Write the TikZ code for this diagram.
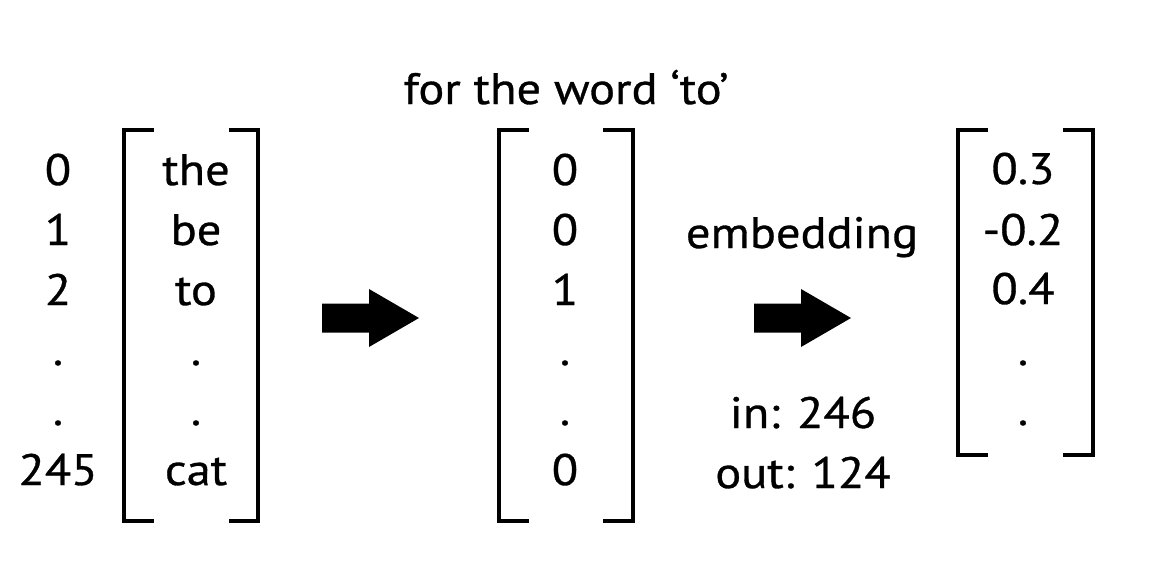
\documentclass[tikz,border=0pt]{standalone}
\usepackage{fontspec}
\setmainfont{PT Sans}[FakeStretch=1.1, FakeBold=0.7]
\tikzset{
  lbl/.style={anchor=base, inner sep=0pt, font=\fontsize{44}{52}\selectfont},
  brk/.style={line width=4pt, line join=miter, line cap=butt},
  blockarrow/.style={fill=black, draw=none}
}
\begin{document}
\begin{tikzpicture}[x=1pt,y=-1pt]
\useasboundingbox[fill=white] (0,0) rectangle (1149,578);
% brackets
\coordinate (b1tl) at (124,130); \coordinate (b1bl) at (124,521);
\coordinate (b1tr) at (258,130); \coordinate (b1br) at (258,521);
\draw[brk] ([xshift=30pt]b1tl) -- (b1tl) -- (b1bl) -- ([xshift=30pt]b1bl);
\draw[brk] ([xshift=-29pt]b1tr) -- (b1tr) -- (b1br) -- ([xshift=-29pt]b1br);
\coordinate (b2tl) at (499,130); \coordinate (b2bl) at (499,521);
\coordinate (b2tr) at (633,130); \coordinate (b2br) at (633,521);
\draw[brk] ([xshift=30pt]b2tl) -- (b2tl) -- (b2bl) -- ([xshift=30pt]b2bl);
\draw[brk] ([xshift=-30pt]b2tr) -- (b2tr) -- (b2br) -- ([xshift=-30pt]b2br);
\coordinate (b3tl) at (958,130); \coordinate (b3bl) at (958,455);
\coordinate (b3tr) at (1093,130); \coordinate (b3br) at (1093,455);
\draw[brk] ([xshift=30pt]b3tl) -- (b3tl) -- (b3bl) -- ([xshift=30pt]b3bl);
\draw[brk] ([xshift=-30pt]b3tr) -- (b3tr) -- (b3br) -- ([xshift=-30pt]b3br);
% block arrows
\coordinate (arrowA) at (322,318);
\coordinate (arrowB) at (754,318);
\foreach \a in {arrowA,arrowB}{
  \fill[blockarrow] (\a) ++(0,-14.5) -- ++(47,0) -- ++(0,-14.5) -- ++(50,29)
    -- ++(-50,29) -- ++(0,-14.5) -- ++(-47,0) -- cycle;
}
% header
\node[lbl] (hdr) at (566,104) {for the word ‘to’};
% index column
\node[lbl] (i0) at (58,185) {0};
\node[lbl] (i1) at (58,245) {1};
\node[lbl] (i2) at (58,305) {2};
\node[lbl] (i3) at (58,365) {.};
\node[lbl] (i4) at (58,425) {.};
\node[lbl] (i5) at (58,485) {245};
% words
\node[lbl] (w0) at (196,185) {the};
\node[lbl] (w1) at (196,245) {be};
\node[lbl] (w2) at (196,305) {to};
\node[lbl] (w3) at (196,365) {.};
\node[lbl] (w4) at (196,425) {.};
\node[lbl] (w5) at (196,485) {cat};
% one-hot
\node[lbl] (o0) at (565,185) {0};
\node[lbl] (o1) at (565,245) {0};
\node[lbl] (o2) at (565,305) {1};
\node[lbl] (o3) at (565,365) {.};
\node[lbl] (o4) at (565,425) {.};
\node[lbl] (o5) at (565,485) {0};
% embedding labels
\node[lbl] (emb) at (802,248) {embedding};
\node[lbl] (inn) at (803,428) {in: 246};
\node[lbl] (out) at (803,488) {out: 124};
% embedding vector
\node[lbl] (e0) at (1023,184) {0.3};
\node[lbl] (e1) at (1023,245) {-0.2};
\node[lbl] (e2) at (1023,304) {0.4};
\node[lbl] (e3) at (1023,365) {.};
\node[lbl] (e4) at (1023,425) {.};
\end{tikzpicture}
\end{document}
